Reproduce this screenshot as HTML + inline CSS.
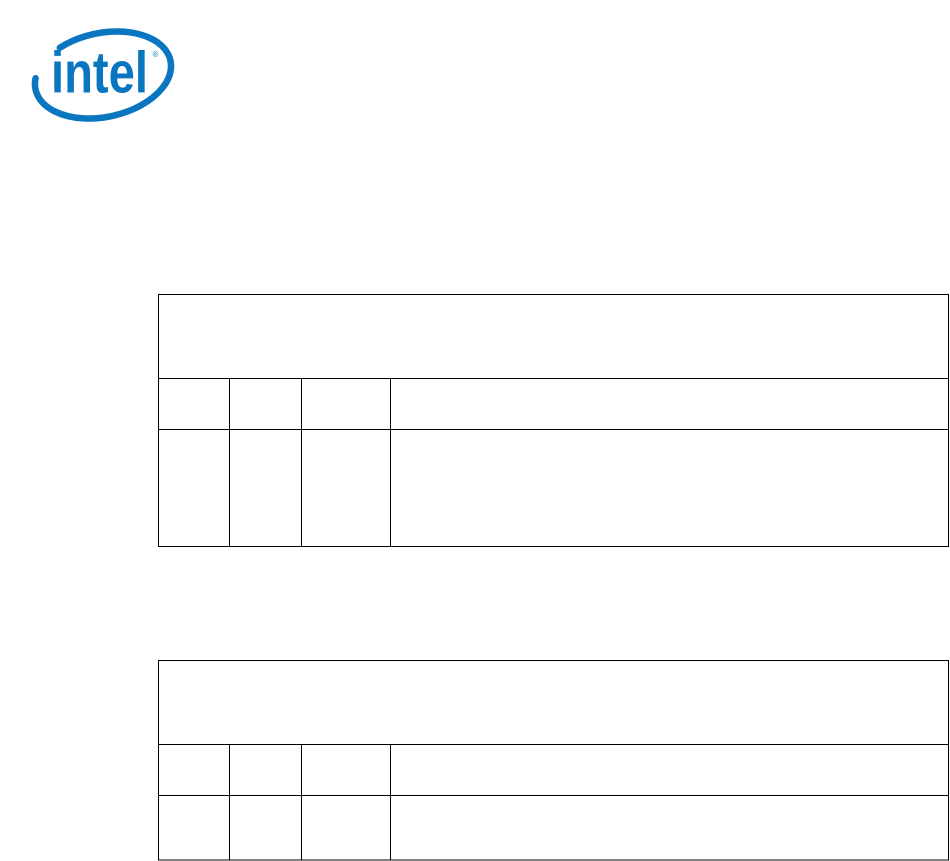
<!DOCTYPE html>
<html>
<head>
<meta charset="utf-8">
<style>
  html, body { margin:0; padding:0; background:#ffffff; }
  body { width:950px; height:861px; overflow:hidden; position:relative; }
  svg { position:absolute; left:0; top:0; }
</style>
</head>
<body>
<svg width="950" height="861" viewBox="0 0 950 861" xmlns="http://www.w3.org/2000/svg">
  <!-- Intel logo -->
  <g transform="translate(103,75) rotate(-12)">
    <path d="M -66.65 -10.87 A 69 42 0 1 0 -36.56 -35.62" fill="none" stroke="#0b76c0" stroke-width="6.5" stroke-linecap="round"/>
  </g>
  <text x="51" y="92.7" font-family="Liberation Sans, sans-serif" font-weight="bold" font-size="58" fill="#0b76c0" textLength="97" lengthAdjust="spacingAndGlyphs">intel</text>
  <text x="152.5" y="57" font-family="Liberation Sans, sans-serif" font-size="8" fill="#0b76c0">®</text>

  <!-- Table 1 -->
  <g stroke="#000" stroke-width="1.4" fill="none" shape-rendering="crispEdges">
    <rect x="158.5" y="294.5" width="790" height="252"/>
    <line x1="158.5" y1="378.5" x2="948.5" y2="378.5"/>
    <line x1="158.5" y1="429.5" x2="948.5" y2="429.5"/>
    <line x1="229.5" y1="378.5" x2="229.5" y2="546.5"/>
    <line x1="301.5" y1="378.5" x2="301.5" y2="546.5"/>
    <line x1="390.5" y1="378.5" x2="390.5" y2="546.5"/>
  </g>

  <!-- Table 2 -->
  <g stroke="#000" stroke-width="1.4" fill="none" shape-rendering="crispEdges">
    <rect x="158.5" y="660.5" width="790" height="199.5"/>
    <line x1="158.5" y1="744.5" x2="948.5" y2="744.5"/>
    <line x1="158.5" y1="795.5" x2="948.5" y2="795.5"/>
    <line x1="229.5" y1="744.5" x2="229.5" y2="860"/>
    <line x1="301.5" y1="744.5" x2="301.5" y2="860"/>
    <line x1="390.5" y1="744.5" x2="390.5" y2="860"/>
  </g>
</svg>
</body>
</html>
